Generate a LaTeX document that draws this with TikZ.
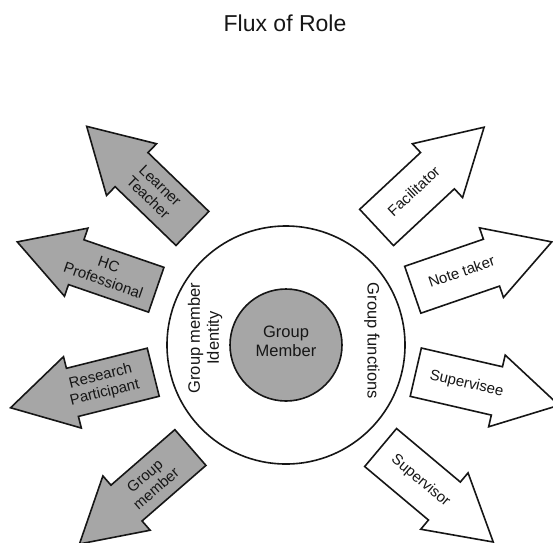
\documentclass[tikz,border=0pt]{standalone}
\usepackage{fontspec}
\setmainfont{Liberation Sans}
\usetikzlibrary{shapes.arrows}
\definecolor{roleGray}{HTML}{A6A6A6}
\definecolor{inkGray}{HTML}{161616}

\tikzset{
  role/.style={draw=inkGray, single arrow, line width=1.6pt, minimum height=147pt,
    minimum width=72pt, single arrow head extend=12pt, single arrow tip angle=60,
    font=\fontsize{15}{17}\selectfont, text=inkGray, align=center,
    inner xsep=4pt, inner ysep=8.5pt, anchor=tail},
  idrole/.style={role, fill=roleGray, shape border rotate=180},
  fnrole/.style={role, fill=white},
  oneline/.style={text height=11pt, text depth=3.2pt, inner ysep=16.9pt},
  ringtext/.style={font=\fontsize{16.5}{19}\selectfont, text=inkGray, align=center}
}

\begin{document}
\begin{tikzpicture}[x=1pt, y=-1pt]
  \useasboundingbox (0,0) rectangle (553,542);
  \node [font=\fontsize{23}{26}\selectfont, text=inkGray] (title) at (285,23) {Flux of Role};

  % rings
  \node [draw=inkGray, circle, line width=1.6pt, minimum size=238pt] (ring) at (286,345) {};
  \node [draw=inkGray, circle, line width=1.6pt, fill=roleGray, minimum size=112pt] (core) at (286,345) {};
  \node [ringtext] (corelabel) at (286,341) {Group\\Member};
  \node [ringtext, rotate=90] (ident) at (205,338) {Group member\\Identity};
  \node [ringtext, rotate=-90] (func) at (372,341) {Group functions};

  % identity roles
  \node [idrole, rotate=-44] (learner) at (193,229) {Learner\\Teacher};
  \node [idrole, rotate=-19] (hcpro) at (157,290) {HC\\Professional};
  \node [idrole, rotate=14] (research) at (154,372) {Research\\Participant};
  \node [idrole, rotate=41] (member) at (191,447) {Group\\member};

  % functional roles
  \node [fnrole, oneline, rotate=43] (facil) at (376,228) {Facilitator};
  \node [fnrole, oneline, rotate=19] (notes) at (412,290) {Note taker};
  \node [fnrole, oneline, rotate=-13] (supee) at (415,372) {Supervisee};
  \node [fnrole, oneline, rotate=-40] (supor) at (380,447) {Supervisor};
\end{tikzpicture}
\end{document}
